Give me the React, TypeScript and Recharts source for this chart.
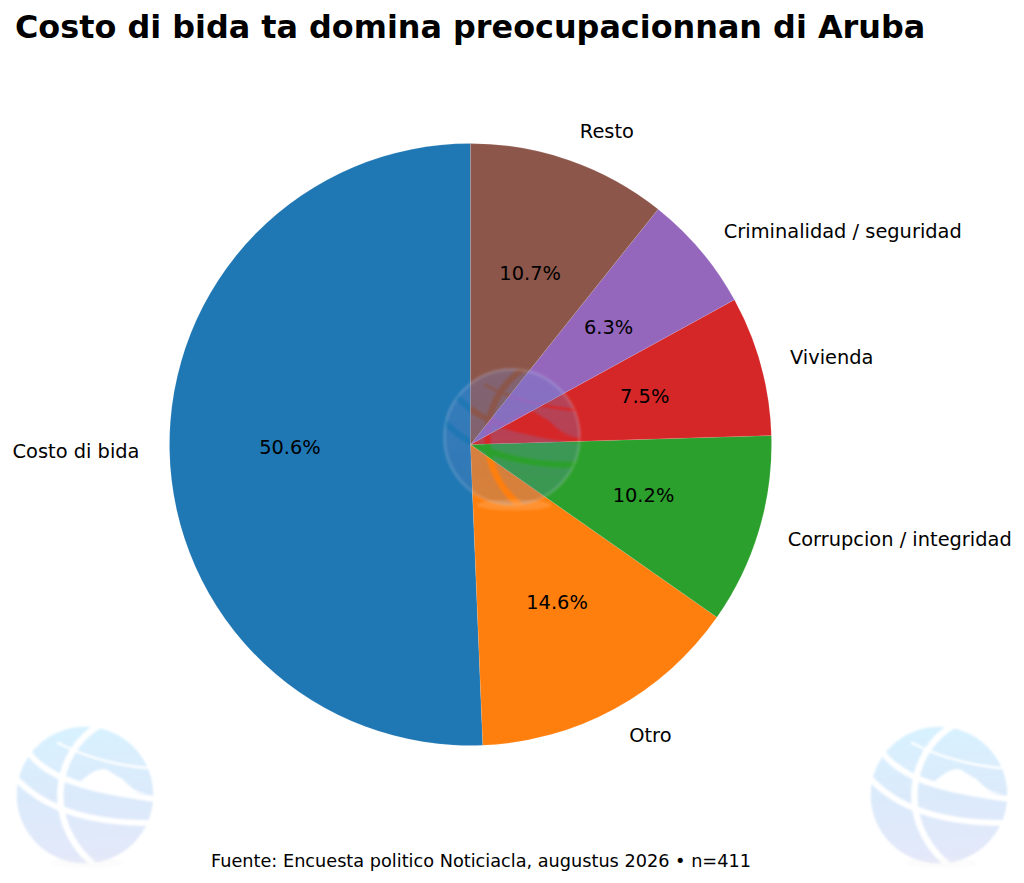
import * as React from "react";
import { PieChart, Pie, Cell } from "recharts";

const CATEGORIES = ["Costo di bida", "Otro", "Corrupcion / integridad", "Vivienda", "Criminalidad / seguridad", "Resto"];
const SHARES = [50.6, 14.6, 10.2, 7.5, 6.3, 10.7];
const COLORS = ["#1f77b4", "#ff7f0e", "#2ca02c", "#d62728", "#9467bd", "#8c564b"];
const TITLE = "Costo di bida ta domina preocupacionnan di Aruba";
const SOURCE = "Fuente: Encuesta politico Noticiacla, augustus 2026 • n=411";

const FONT = "'DejaVu Sans', sans-serif";
const rows = CATEGORIES.map((name, i) => ({ name, share: SHARES[i] }));

// etiketa pafo y porcentahe paden
const renderLabel = (p: any) => {
  const rad = (p.midAngle * Math.PI) / 180;
  const cos = Math.cos(rad);
  const sin = Math.sin(rad);
  const ox = p.cx + p.outerRadius * 1.1 * cos;
  const oy = p.cy - p.outerRadius * 1.1 * sin;
  const ix = p.cx + p.outerRadius * 0.6 * cos;
  const iy = p.cy - p.outerRadius * 0.6 * sin;
  return (
    <g key={p.name} fontFamily={FONT} fontSize={19.4} fill="#000">
      <text x={ox} y={oy} textAnchor={cos >= 0 ? "start" : "end"} dominantBaseline="central">
        {p.name}
      </text>
      <text x={ix} y={iy - 0.5} textAnchor="middle" dominantBaseline="central">
        {p.share.toFixed(1)}%
      </text>
    </g>
  );
};

// globo, e bandanan ta buraco pa loke ta bou di dje keda mira
const Globe = ({ id, x, y, fill, rimOpacity, foot, footOpacity }: any) => (
  <g transform={`translate(${x},${y})`} filter="url(#soft)">
    <mask id={id}>
      <circle r={68.5} fill="#fff" />
      <g fill="none" stroke="#000" strokeLinecap="round">
        <path d="M15,-70 C-30,-45 -42,25 7,68" strokeWidth={6.5} />
        <path d="M-56,-42 C-35,-14 10,-4 70,4" strokeWidth={6} />
        <path d="M-70,-18 C-40,16 10,28 64,28" strokeWidth={6} />
        <path d="M-27,-52 C0,-38 30,-30 62,-27" strokeWidth={2.5} />
      </g>
      <path d="M-5,-14 C3,-18 6,-25 18,-26 C24,-26 28,-20 36,-17 C42,-12 46,-7 52,-4 L62,-1 L20,-5 Z" fill="#000" />
    </mask>
    <circle r={68.5} fill={fill} mask={`url(#${id})`} />
    <circle r={67.5} fill="none" stroke="#fff" strokeOpacity={rimOpacity} strokeWidth={3} />
    <ellipse cx={2} cy={68} rx={37} ry={5.5} fill={foot} fillOpacity={footOpacity} />
  </g>
);

export default function App() {
  return (
    <div style={{ position: "fixed", left: 0, top: 0, width: 1024, height: 883, background: "#fff" }}>
      <div style={{ position: "absolute", left: 0, top: 0 }}>
        <PieChart width={1024} height={883} margin={{ top: 0, right: 0, bottom: 0, left: 0 }}>
          <Pie
            data={rows}
            dataKey="share"
            nameKey="name"
            cx={470.5}
            cy={444.5}
            outerRadius={301}
            innerRadius={0}
            startAngle={90}
            endAngle={450}
            stroke="rgba(255,255,255,0.2)"
            strokeWidth={0.5}
            labelLine={false}
            label={renderLabel}
            isAnimationActive={false}
          >
            {rows.map((r, i) => (
              <Cell key={r.name} fill={COLORS[i]} />
            ))}
          </Pie>
        </PieChart>
      </div>
      <svg width={1024} height={883} style={{ position: "absolute", left: 0, top: 0, pointerEvents: "none" }}>
        <defs>
          <filter id="soft" x="-10%" y="-10%" width="120%" height="125%">
            <feGaussianBlur stdDeviation={0.9} />
          </filter>
          <linearGradient id="globeFill" x1="0.45" y1="0" x2="0.5" y2="1">
            <stop offset="0" stopColor="#d8f2ff" />
            <stop offset="0.5" stopColor="#dbeafb" />
            <stop offset="1" stopColor="#e4e8f9" />
          </linearGradient>
          <linearGradient id="globeCenter" x1="0.5" y1="0" x2="0.5" y2="1">
            <stop offset="0" stopColor="#6a86d0" stopOpacity={0.3} />
            <stop offset="1" stopColor="#6482b8" stopOpacity={0.26} />
          </linearGradient>
        </defs>
        <Globe id="g-left" x={85} y={795} fill="url(#globeFill)" rimOpacity={0} foot="#eeeef2" footOpacity={0.2} />
        <Globe id="g-right" x={939} y={795} fill="url(#globeFill)" rimOpacity={0} foot="#eeeef2" footOpacity={0.2} />
        <Globe id="g-mid" x={512} y={437} fill="url(#globeCenter)" rimOpacity={0.13} foot="#fff" footOpacity={0.14} />
        <text x={15} y={38} fontFamily={FONT} fontWeight="bold" fontSize={31.85} fill="#000">
          {TITLE}
        </text>
        <text x={481} y={860.5} textAnchor="middle" dominantBaseline="central" fontFamily={FONT} fontSize={17.7} fill="#000">
          {SOURCE}
        </text>
      </svg>
    </div>
  );
}
